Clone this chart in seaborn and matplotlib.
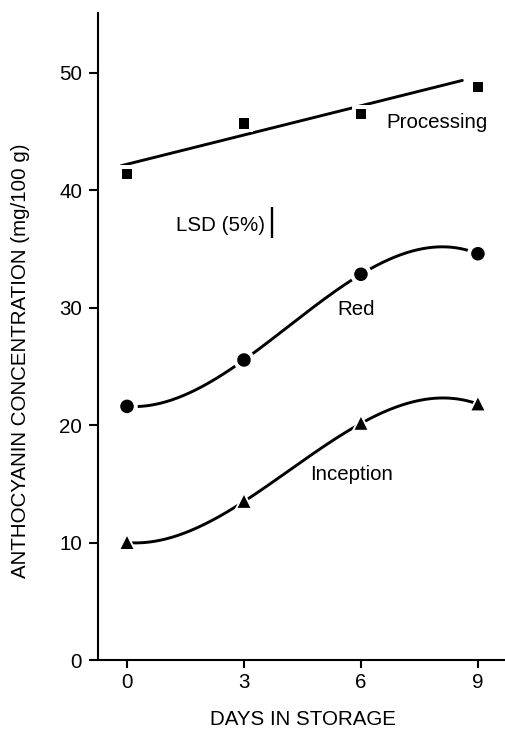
import numpy as np
import pandas as pd
import matplotlib
matplotlib.use("Agg")
import matplotlib.pyplot as plt
import seaborn as sns

# Anthocyanin concentration (mg/100 g) by days in storage
days = [0, 3, 6, 9]
processing = [41.4, 45.7, 46.5, 48.8]
red = [21.6, 25.55, 32.85, 34.6]
inception = [10.0, 13.5, 20.15, 21.8]

# Linear trend drawn for the processing cultivar: intercept, slope per day
processing_trend = (42.22, 0.83)

# Least significant difference at 5 %
lsd_5pct = 2.64

x_ticks = [0, 3, 6, 9]
y_ticks = [0, 10, 20, 30, 40, 50]

sns.set_theme(style="ticks")
plt.rcParams["font.family"] = ["Liberation Sans", "DejaVu Sans"]
plt.rcParams.update({
    "text.color": "black",
    "axes.labelcolor": "black",
    "xtick.color": "black",
    "ytick.color": "black",
    "axes.edgecolor": "black",
})

FS = 14.8
LW = 2.1

fig = plt.figure(figsize=(5.06, 7.30), dpi=100)
ax = fig.add_axes([98 / 506, 70 / 730, 408 / 506, 647 / 730])

# Smooth cubic fits for Red and Inception
x_fine = np.linspace(days[0], days[-1], 300)
for values in (red, inception):
    coef = np.polyfit(days, values, 3)
    curve = pd.DataFrame({"day": x_fine, "conc": np.polyval(coef, x_fine)})
    sns.lineplot(data=curve, x="day", y="conc", color="black", lw=LW,
                 ax=ax, zorder=2)

# Straight trend for Processing
x_line = np.linspace(days[0] - 0.15, days[-1] - 0.4, 50)
trend = pd.DataFrame({"day": x_line,
                      "conc": processing_trend[0] + processing_trend[1] * x_line})
sns.lineplot(data=trend, x="day", y="conc", color="black", lw=LW, ax=ax, zorder=2)

# Markers with a white halo so the lines break around them
series = [(processing, "s", 58, 165), (red, "o", 95, 240), (inception, "^", 85, 235)]
for values, marker, size, halo in series:
    df = pd.DataFrame({"day": days, "conc": values})
    sns.scatterplot(data=df, x="day", y="conc", marker=marker, s=halo,
                    color="white", edgecolor="none", linewidth=0, ax=ax, zorder=3)
    sns.scatterplot(data=df, x="day", y="conc", marker=marker, s=size,
                    color="black", edgecolor="none", linewidth=0, ax=ax, zorder=4)

# LSD bar
lsd_center = 37.27
ax.vlines(3.71, lsd_center - lsd_5pct / 2, lsd_center + lsd_5pct / 2,
          color="black", lw=1.7)
ax.text(3.55, 36.5, "LSD (5%)", ha="right", va="baseline", fontsize=FS)

# Series labels
ax.text(7.95, 45.3, "Processing", ha="center", va="baseline", fontsize=FS)
ax.text(5.88, 29.4, "Red", ha="center", va="baseline", fontsize=FS)
ax.text(5.75, 15.35, "Inception", ha="center", va="baseline", fontsize=FS)

ax.set_xlim(-0.744, 9.72)
ax.set_ylim(0, 55.1)
ax.set_xticks(x_ticks)
ax.set_yticks(y_ticks)

for side in ("top", "right"):
    ax.spines[side].set_visible(False)
for side in ("left", "bottom"):
    ax.spines[side].set_linewidth(1.5)

ax.tick_params(axis="x", direction="out", length=5.5, width=1.5, pad=4,
               labelsize=FS)
ax.tick_params(axis="y", direction="out", length=6.5, width=1.5, pad=5,
               labelsize=FS)

ax.set_xlabel("DAYS IN STORAGE", fontsize=FS)
ax.set_ylabel("ANTHOCYANIN CONCENTRATION (mg/100 g)", fontsize=FS)
ax.xaxis.set_label_coords(0.5025, -0.0927)
ax.xaxis.label.set_va("center")
ax.yaxis.set_label_coords(-0.191, 0.462)
ax.yaxis.label.set_va("center")

fig.savefig("out.png", dpi=100, facecolor="white")
